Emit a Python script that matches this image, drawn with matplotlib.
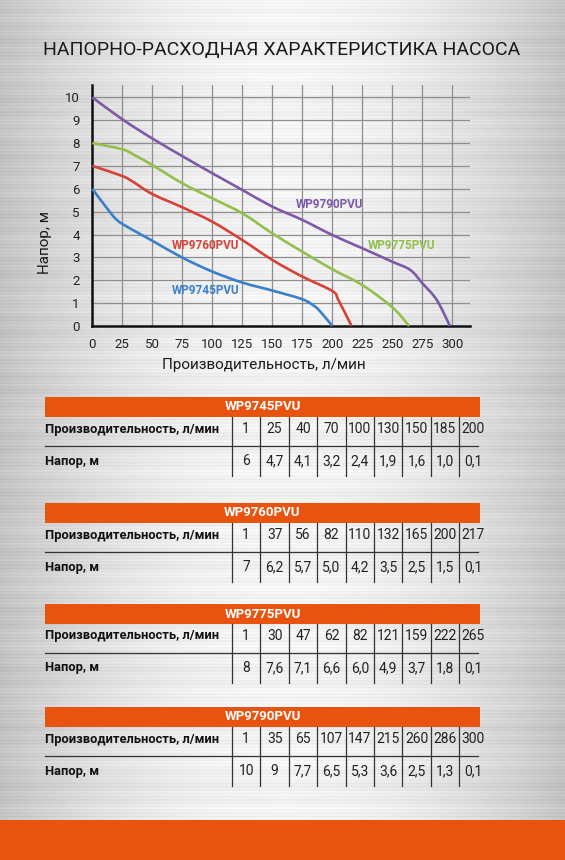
import numpy as np
import matplotlib.pyplot as plt
from matplotlib.patches import Rectangle, PathPatch
from matplotlib.path import Path

plt.rcParams['font.family'] = ['Roboto', 'DejaVu Sans']

# Curves
q45 = [0, 10, 20, 30, 50, 75, 100, 125, 150, 175, 185, 190, 200]
h45 = [6.0, 5.3, 4.66, 4.31, 3.73, 2.99, 2.38, 1.9, 1.55, 1.17, 0.87, 0.63, 0.0]
q60 = [0, 25, 35, 50, 75, 100, 125, 150, 175, 200, 205, 216]
h60 = [7.0, 6.56, 6.27, 5.77, 5.19, 4.56, 3.76, 2.89, 2.16, 1.53, 1.14, 0.0]
q75 = [0, 25, 35, 50, 75, 100, 125, 150, 175, 200, 225, 250, 264]
h75 = [8.0, 7.73, 7.48, 7.04, 6.24, 5.58, 4.93, 4.05, 3.25, 2.48, 1.79, 0.82, 0.0]
q90 = [0, 25, 50, 75, 100, 125, 150, 175, 200, 225, 250, 265, 275, 287, 298]
h90 = [10.0, 9.04, 8.2, 7.43, 6.68, 5.95, 5.22, 4.64, 3.98, 3.4, 2.81, 2.45, 1.87, 1.14, 0.0]

# Tables
models = ['WP9745PVU', 'WP9760PVU', 'WP9775PVU', 'WP9790PVU']
t_flow = [
    ['1', '25', '40', '70', '100', '130', '150', '185', '200'],
    ['1', '37', '56', '82', '110', '132', '165', '200', '217'],
    ['1', '30', '47', '62', '82', '121', '159', '222', '265'],
    ['1', '35', '65', '107', '147', '215', '260', '286', '300'],
]
t_head = [
    ['6', '4,7', '4,1', '3,2', '2,4', '1,9', '1,6', '1,0', '0,1'],
    ['7', '6,2', '5,7', '5,0', '4,2', '3,5', '2,5', '1,5', '0,1'],
    ['8', '7,6', '7,1', '6,6', '6,0', '4,9', '3,7', '1,8', '0,1'],
    ['10', '9', '7,7', '6,5', '5,3', '3,6', '2,5', '1,3', '0,1'],
]

blue = '#3b7fcb'
red = '#d6413a'
green = '#92c04a'
purple = '#7d5aa8'
orange = '#e8540f'


def smooth_path(xs, ys):
    # Catmull-Rom through the points, drawn as cubic Bezier segments
    p = np.column_stack([xs, ys]).astype(float)
    n = len(p)
    verts = [p[0]]
    codes = [Path.MOVETO]
    for i in range(n - 1):
        p0 = p[max(i - 1, 0)]
        p1, p2 = p[i], p[i + 1]
        p3 = p[min(i + 2, n - 1)]
        c1 = p1 + (p2 - p0) / 6
        c2 = p2 - (p3 - p1) / 6
        verts += [c1, c2, p2]
        codes += [Path.CURVE4] * 3
    return Path(verts, codes)


W, H = 565, 860
fig = plt.figure(figsize=(W / 100, H / 100), dpi=100)

# brushed metal background
bg = fig.add_axes([0, 0, 1, 1])
xx = np.linspace(-1, 1, W)
yy = np.arange(H)
base = 0.95 - 0.19 * xx ** 2
streak = 0.018 * np.sin(yy * 1.9) + 0.012 * np.sin(yy * 0.43) + 0.01 * np.sin(yy * 0.11)
img = base[None, :] + streak[:, None]
bg.imshow(np.clip(img, 0, 1), cmap='gray', vmin=0, vmax=1, aspect='auto',
          extent=[0, W, H, 0], interpolation='bilinear')
bg.set_xlim(0, W)
bg.set_ylim(H, 0)
bg.axis('off')

# chart
x0, x1, ytop, ybot = 92.3, 470, 85, 326
ax = fig.add_axes([x0 / W, 1 - ybot / H, (x1 - x0) / W, (ybot - ytop) / H])
ax.patch.set_alpha(0)
ax.set_xlim(0, 314.7)
ax.set_ylim(0, 10.54)
ax.set_xticks(range(0, 301, 25))
ax.set_yticks(range(0, 11))
ax.grid(True, color='#8e8e8e', linewidth=0.9)
ax.set_axisbelow(True)
for s in ['top', 'right']:
    ax.spines[s].set_visible(False)
for s in ['left', 'bottom']:
    ax.spines[s].set_linewidth(1.8)
    ax.spines[s].set_color('#111111')
ax.tick_params(length=0, labelsize=9.5, colors='#222222')
ax.tick_params(axis='x', pad=9)
ax.tick_params(axis='y', pad=9)

for q, h, c in [(q45, h45, blue), (q60, h60, red), (q75, h75, green), (q90, h90, purple)]:
    ax.add_patch(PathPatch(smooth_path(q, h), facecolor='none', edgecolor=c,
                           linewidth=1.9, joinstyle='round', clip_on=False, zorder=3))

ax.text(198, 5.3, 'WP9790PVU', color=purple, fontsize=8.5, fontweight='bold', ha='center', va='center')
ax.text(258, 3.5, 'WP9775PVU', color=green, fontsize=8.5, fontweight='bold', ha='center', va='center')
ax.text(94, 3.5, 'WP9760PVU', color=red, fontsize=8.5, fontweight='bold', ha='center', va='center')
ax.text(94, 1.57, 'WP9745PVU', color=blue, fontsize=8.5, fontweight='bold', ha='center', va='center')

# overlay in pixel coordinates for title, labels and tables
ov = fig.add_axes([0, 0, 1, 1])
ov.patch.set_alpha(0)
ov.set_xlim(0, W)
ov.set_ylim(H, 0)
ov.axis('off')

ov.text(282, 50, 'НАПОРНО-РАСХОДНАЯ ХАРАКТЕРИСТИКА НАСОСА', fontsize=14, ha='center',
        va='center', color='#1a1a1a')
ov.text(264, 365, 'Производительность, л/мин', fontsize=11, ha='center', va='center',
        color='#1a1a1a')
ov.text(45, 242, 'Напор, м', fontsize=11, ha='center', va='center', rotation=90,
        color='#1a1a1a')

tab_left, tab_right = 45, 480
col0, colw = 232, 28.4
tops = [397, 503, 604, 707]
for i, m in enumerate(models):
    t = tops[i]
    ov.add_patch(Rectangle((tab_left, t), tab_right - tab_left, 20, color=orange, lw=0))
    ov.text((tab_left + tab_right) / 2, t + 10, m, color='white', fontsize=9.5,
            fontweight='bold', ha='center', va='center')
    r1, ln, r2, vend = t + 32, t + 49, t + 64, t + 79
    ov.text(tab_left, r1, 'Производительность, л/мин', fontsize=9.3, fontweight='bold',
            ha='left', va='center', color='#111111')
    ov.text(tab_left, r2, 'Напор, м', fontsize=9.3, fontweight='bold',
            ha='left', va='center', color='#111111')
    ov.plot([tab_left, 478], [ln, ln], color='#333333', lw=0.9)
    for k in range(9):
        xl = col0 + k * colw
        ov.plot([xl, xl], [t + 20, vend], color='#333333', lw=0.9)
        ov.text(xl + colw / 2, r1, t_flow[i][k], fontsize=10, ha='center', va='center',
                color='#222222')
        ov.text(xl + colw / 2, r2, t_head[i][k], fontsize=10, ha='center', va='center',
                color='#222222')

ov.add_patch(Rectangle((0, 820), W, 40, color=orange, lw=0))

fig.savefig('out.png', dpi=100)
